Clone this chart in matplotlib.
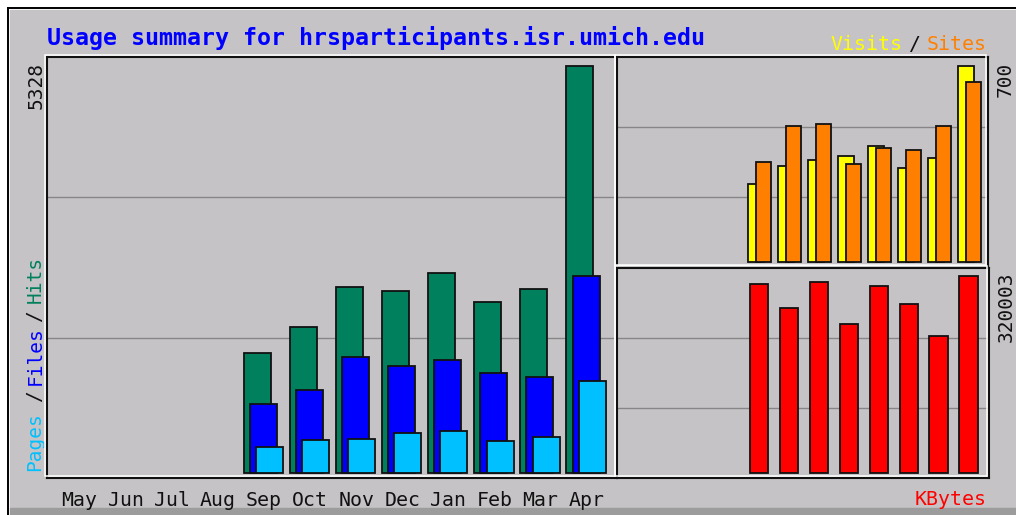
import matplotlib.pyplot as plt
import matplotlib.patches as patches
import matplotlib.transforms as transforms

# Webalizer-style usage summary
W, H = 1016, 515
MONTHS = ["May", "Jun", "Jul", "Aug", "Sep", "Oct",
          "Nov", "Dec", "Jan", "Feb", "Mar", "Apr"]
HITS = [0, 0, 0, 0, 1571, 1915, 2439, 2387, 2622, 2234, 2413, 5328]
FILES = [0, 0, 0, 0, 903, 1082, 1523, 1397, 1475, 1313, 1261, 2579]
PAGES = [0, 0, 0, 0, 344, 428, 449, 528, 554, 423, 475, 1208]
VISITS = [0, 0, 0, 0, 277, 343, 363, 379, 414, 335, 370, 700]
SITES = [0, 0, 0, 0, 356, 486, 493, 350, 407, 399, 486, 644]
KBYTES = [0, 0, 0, 0, 307007, 268023, 310257, 242033,
          303760, 274520, 222540, 320003]

GREY = "#c6c3c6"
GRID = "#868686"
MONO = "DejaVu Sans Mono"


def box(x0, y0, x1, y1):
    # pixel box (top-down image coords) -> figure fraction rect
    return [x0 / W, 1 - y1 / H, (x1 - x0) / W, (y1 - y0) / H]


def fx(x):
    return x / W


def fy(y):
    return 1 - y / H


def make_axes(fig, rect, xlim, ylim):
    ax = fig.add_axes(box(*rect))
    ax.set_facecolor(GREY)
    ax.set_xlim(*xlim)
    ax.set_ylim(*ylim)
    b, t = ylim
    for k in (1, 2):
        ax.axhline(b + (t - b) * k / 3, color=GRID, lw=1.0, zorder=1)
    ax.set_xticks([])
    ax.set_yticks([])
    for s in ax.spines.values():
        s.set_color("#111111")
        s.set_linewidth(1.5)
    # white bevel line, shifted 2px up-left
    x0, y0, x1, y1 = rect
    fig.add_artist(patches.Rectangle((fx(x0 - 2), fy(y1 - 2)),
                                     (x1 - x0) / W, (y1 - y0) / H,
                                     transform=fig.transFigure, fill=False,
                                     edgecolor="white", lw=1.1, zorder=5))
    return ax


def bars(ax, values, offset, width, color):
    xs = [i + offset for i, v in enumerate(values) if v > 0]
    hs = [v for v in values if v > 0]
    ax.bar(xs, hs, width=width, align="edge", color=color,
           edgecolor="#111111", linewidth=1.3, zorder=3)


fig = plt.figure(figsize=(W / 100, H / 100), dpi=100)
fig.patch.set_facecolor("white")

# panel background and outer border
fig.add_artist(patches.Rectangle((fx(10), fy(508)), 1, (508 - 10) / H,
                                 transform=fig.transFigure, color=GREY,
                                 zorder=0))
fig.add_artist(patches.Rectangle((fx(10), 0), 1, (515 - 508) / H,
                                 transform=fig.transFigure, color="#9c9c9c",
                                 zorder=0))
fig.add_artist(plt.Line2D([fx(7.5), 1], [fy(7.5), fy(7.5)],
                          transform=fig.transFigure, color="black", lw=1.4))
fig.add_artist(plt.Line2D([fx(7.5), fx(7.5)], [fy(7.5), 0],
                          transform=fig.transFigure, color="black", lw=1.4))

# main hits/files/pages panel
main = make_axes(fig, (47, 57, 617, 478), (-0.267, 12.1), (-65.5, 5446))
bars(main, HITS, 0.0, 0.586, "#00805c")
bars(main, FILES, 0.135, 0.586, "#0000ff")
bars(main, PAGES, 0.27, 0.586, "#00c0ff")

# visits / sites panel
vis = make_axes(fig, (617, 57, 988, 267), (-0.357, 12.01), (-17.9, 732))
bars(vis, VISITS, 0.0, 0.55, "#ffff00")
bars(vis, SITES, 0.28, 0.48, "#ff8000")

# kbytes panel
kb = make_axes(fig, (617, 268, 989, 478), (-0.448, 11.99), (-8122, 333000))
bars(kb, KBYTES, 0.0, 0.61, "#ff0000")

# month labels under the main panel
trans = transforms.blended_transform_factory(main.transData, fig.transFigure)
for i, m in enumerate(MONTHS):
    main.text(i + 0.44, fy(506), m, transform=trans, ha="center",
              va="baseline", family=MONO, fontsize=14.3, color="#111111")

# title and legends
fig.text(fx(47), fy(45), "Usage summary for hrsparticipants.isr.umich.edu",
         family=MONO, fontweight="bold", fontsize=16.75, color="#0000ff",
         va="baseline", ha="left")
fig.text(fx(902), fy(50), "Visits", family=MONO, fontsize=14.3,
         color="#ffff00", ha="right", va="baseline")
fig.text(fx(914), fy(50), "/", family=MONO, fontsize=14.3,
         color="#111111", ha="center", va="baseline")
fig.text(fx(987), fy(50), "Sites", family=MONO, fontsize=14.3,
         color="#ff8000", ha="right", va="baseline")
fig.text(fx(987), fy(505), "KBytes", family=MONO, fontsize=14.3,
         color="#ff0000", ha="right", va="baseline")

# rotated axis labels
rot = dict(family=MONO, fontsize=14, rotation=90, ha="center")
fig.text(fx(36), fy(62), str(max(HITS)), va="top", color="#111111", **rot)
fig.text(fx(1005), fy(62), str(max(VISITS)), va="top", color="#111111", **rot)
fig.text(fx(1006), fy(271), str(max(KBYTES)), va="top", color="#111111", **rot)
fig.text(fx(35), fy(471), "Pages", va="bottom", color="#00c0ff", **rot)
fig.text(fx(35), fy(396), "/", va="center", color="#111111", **rot)
fig.text(fx(35), fy(385), "Files", va="bottom", color="#0000ff", **rot)
fig.text(fx(35), fy(316), "/", va="center", color="#111111", **rot)
fig.text(fx(35), fy(303), "Hits", va="bottom", color="#00805c", **rot)

fig.savefig("out.png", dpi=100, facecolor=fig.get_facecolor())
